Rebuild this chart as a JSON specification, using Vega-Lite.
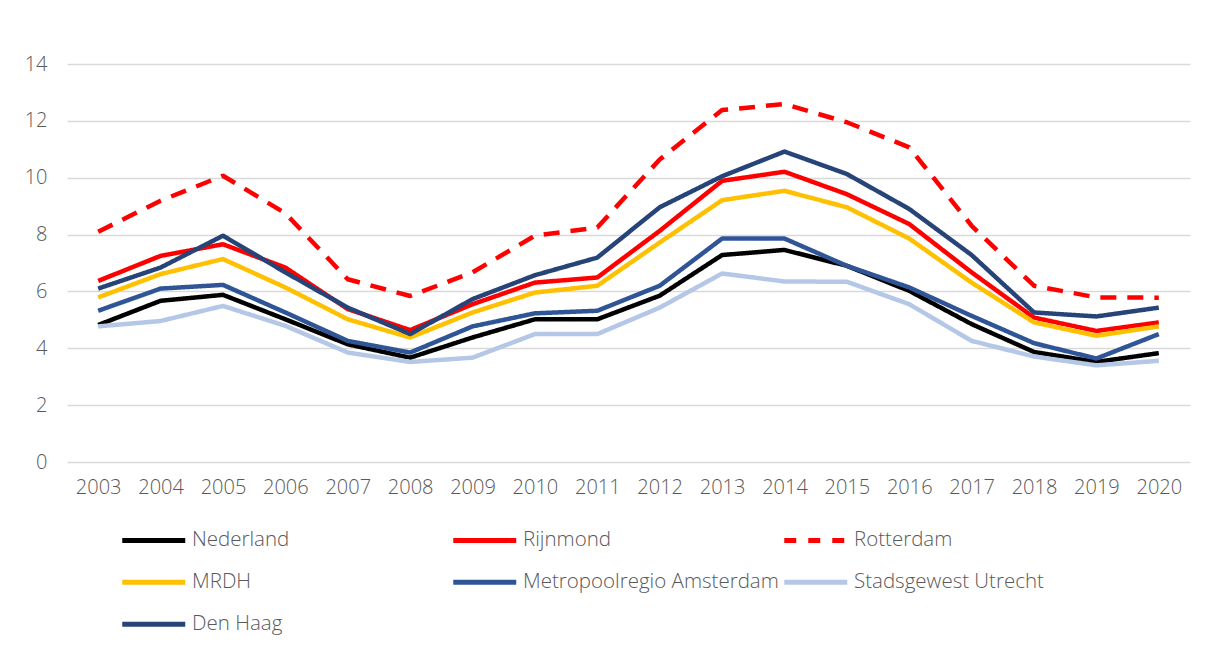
{
  "$schema": "https://vega.github.io/schema/vega-lite/v6.json",
  "width": 1123,
  "height": 398,
  "autosize": "none",
  "padding": {"left": 67, "top": 64, "right": 22, "bottom": 186},
  "background": "white",
  "data": {"values": [
    {"jaar":"2003","serie":"Nederland","waarde":4.82},{"jaar":"2004","serie":"Nederland","waarde":5.67},{"jaar":"2005","serie":"Nederland","waarde":5.88},{"jaar":"2006","serie":"Nederland","waarde":5.02},{"jaar":"2007","serie":"Nederland","waarde":4.14},{"jaar":"2008","serie":"Nederland","waarde":3.67},{"jaar":"2009","serie":"Nederland","waarde":4.38},{"jaar":"2010","serie":"Nederland","waarde":5.02},{"jaar":"2011","serie":"Nederland","waarde":5.02},{"jaar":"2012","serie":"Nederland","waarde":5.85},{"jaar":"2013","serie":"Nederland","waarde":7.28},{"jaar":"2014","serie":"Nederland","waarde":7.46},{"jaar":"2015","serie":"Nederland","waarde":6.9},{"jaar":"2016","serie":"Nederland","waarde":6.02},{"jaar":"2017","serie":"Nederland","waarde":4.85},{"jaar":"2018","serie":"Nederland","waarde":3.87},{"jaar":"2019","serie":"Nederland","waarde":3.52},{"jaar":"2020","serie":"Nederland","waarde":3.83},
    {"jaar":"2003","serie":"Rijnmond","waarde":6.37},{"jaar":"2004","serie":"Rijnmond","waarde":7.25},{"jaar":"2005","serie":"Rijnmond","waarde":7.66},{"jaar":"2006","serie":"Rijnmond","waarde":6.84},{"jaar":"2007","serie":"Rijnmond","waarde":5.38},{"jaar":"2008","serie":"Rijnmond","waarde":4.64},{"jaar":"2009","serie":"Rijnmond","waarde":5.55},{"jaar":"2010","serie":"Rijnmond","waarde":6.31},{"jaar":"2011","serie":"Rijnmond","waarde":6.49},{"jaar":"2012","serie":"Rijnmond","waarde":8.13},{"jaar":"2013","serie":"Rijnmond","waarde":9.89},{"jaar":"2014","serie":"Rijnmond","waarde":10.21},{"jaar":"2015","serie":"Rijnmond","waarde":9.42},{"jaar":"2016","serie":"Rijnmond","waarde":8.37},{"jaar":"2017","serie":"Rijnmond","waarde":6.67},{"jaar":"2018","serie":"Rijnmond","waarde":5.08},{"jaar":"2019","serie":"Rijnmond","waarde":4.61},{"jaar":"2020","serie":"Rijnmond","waarde":4.91},
    {"jaar":"2003","serie":"Rotterdam","waarde":8.1},{"jaar":"2004","serie":"Rotterdam","waarde":9.19},{"jaar":"2005","serie":"Rotterdam","waarde":10.07},{"jaar":"2006","serie":"Rotterdam","waarde":8.75},{"jaar":"2007","serie":"Rotterdam","waarde":6.43},{"jaar":"2008","serie":"Rotterdam","waarde":5.84},{"jaar":"2009","serie":"Rotterdam","waarde":6.67},{"jaar":"2010","serie":"Rotterdam","waarde":7.96},{"jaar":"2011","serie":"Rotterdam","waarde":8.25},{"jaar":"2012","serie":"Rotterdam","waarde":10.64},{"jaar":"2013","serie":"Rotterdam","waarde":12.38},{"jaar":"2014","serie":"Rotterdam","waarde":12.59},{"jaar":"2015","serie":"Rotterdam","waarde":11.95},{"jaar":"2016","serie":"Rotterdam","waarde":11.07},{"jaar":"2017","serie":"Rotterdam","waarde":8.31},{"jaar":"2018","serie":"Rotterdam","waarde":6.2},{"jaar":"2019","serie":"Rotterdam","waarde":5.79},{"jaar":"2020","serie":"Rotterdam","waarde":5.78},
    {"jaar":"2003","serie":"MRDH","waarde":5.79},{"jaar":"2004","serie":"MRDH","waarde":6.61},{"jaar":"2005","serie":"MRDH","waarde":7.14},{"jaar":"2006","serie":"MRDH","waarde":6.14},{"jaar":"2007","serie":"MRDH","waarde":5.02},{"jaar":"2008","serie":"MRDH","waarde":4.38},{"jaar":"2009","serie":"MRDH","waarde":5.26},{"jaar":"2010","serie":"MRDH","waarde":5.96},{"jaar":"2011","serie":"MRDH","waarde":6.2},{"jaar":"2012","serie":"MRDH","waarde":7.72},{"jaar":"2013","serie":"MRDH","waarde":9.21},{"jaar":"2014","serie":"MRDH","waarde":9.54},{"jaar":"2015","serie":"MRDH","waarde":8.96},{"jaar":"2016","serie":"MRDH","waarde":7.86},{"jaar":"2017","serie":"MRDH","waarde":6.31},{"jaar":"2018","serie":"MRDH","waarde":4.91},{"jaar":"2019","serie":"MRDH","waarde":4.44},{"jaar":"2020","serie":"MRDH","waarde":4.77},
    {"jaar":"2003","serie":"Metropoolregio Amsterdam","waarde":5.32},{"jaar":"2004","serie":"Metropoolregio Amsterdam","waarde":6.1},{"jaar":"2005","serie":"Metropoolregio Amsterdam","waarde":6.23},{"jaar":"2006","serie":"Metropoolregio Amsterdam","waarde":5.26},{"jaar":"2007","serie":"Metropoolregio Amsterdam","waarde":4.26},{"jaar":"2008","serie":"Metropoolregio Amsterdam","waarde":3.85},{"jaar":"2009","serie":"Metropoolregio Amsterdam","waarde":4.77},{"jaar":"2010","serie":"Metropoolregio Amsterdam","waarde":5.23},{"jaar":"2011","serie":"Metropoolregio Amsterdam","waarde":5.32},{"jaar":"2012","serie":"Metropoolregio Amsterdam","waarde":6.2},{"jaar":"2013","serie":"Metropoolregio Amsterdam","waarde":7.86},{"jaar":"2014","serie":"Metropoolregio Amsterdam","waarde":7.86},{"jaar":"2015","serie":"Metropoolregio Amsterdam","waarde":6.9},{"jaar":"2016","serie":"Metropoolregio Amsterdam","waarde":6.14},{"jaar":"2017","serie":"Metropoolregio Amsterdam","waarde":5.14},{"jaar":"2018","serie":"Metropoolregio Amsterdam","waarde":4.18},{"jaar":"2019","serie":"Metropoolregio Amsterdam","waarde":3.64},{"jaar":"2020","serie":"Metropoolregio Amsterdam","waarde":4.5},
    {"jaar":"2003","serie":"Stadsgewest Utrecht","waarde":4.77},{"jaar":"2004","serie":"Stadsgewest Utrecht","waarde":4.96},{"jaar":"2005","serie":"Stadsgewest Utrecht","waarde":5.49},{"jaar":"2006","serie":"Stadsgewest Utrecht","waarde":4.79},{"jaar":"2007","serie":"Stadsgewest Utrecht","waarde":3.85},{"jaar":"2008","serie":"Stadsgewest Utrecht","waarde":3.52},{"jaar":"2009","serie":"Stadsgewest Utrecht","waarde":3.67},{"jaar":"2010","serie":"Stadsgewest Utrecht","waarde":4.5},{"jaar":"2011","serie":"Stadsgewest Utrecht","waarde":4.5},{"jaar":"2012","serie":"Stadsgewest Utrecht","waarde":5.43},{"jaar":"2013","serie":"Stadsgewest Utrecht","waarde":6.63},{"jaar":"2014","serie":"Stadsgewest Utrecht","waarde":6.35},{"jaar":"2015","serie":"Stadsgewest Utrecht","waarde":6.34},{"jaar":"2016","serie":"Stadsgewest Utrecht","waarde":5.55},{"jaar":"2017","serie":"Stadsgewest Utrecht","waarde":4.26},{"jaar":"2018","serie":"Stadsgewest Utrecht","waarde":3.71},{"jaar":"2019","serie":"Stadsgewest Utrecht","waarde":3.4},{"jaar":"2020","serie":"Stadsgewest Utrecht","waarde":3.56},
    {"jaar":"2003","serie":"Den Haag","waarde":6.1},{"jaar":"2004","serie":"Den Haag","waarde":6.84},{"jaar":"2005","serie":"Den Haag","waarde":7.96},{"jaar":"2006","serie":"Den Haag","waarde":6.67},{"jaar":"2007","serie":"Den Haag","waarde":5.43},{"jaar":"2008","serie":"Den Haag","waarde":4.5},{"jaar":"2009","serie":"Den Haag","waarde":5.73},{"jaar":"2010","serie":"Den Haag","waarde":6.57},{"jaar":"2011","serie":"Den Haag","waarde":7.19},{"jaar":"2012","serie":"Den Haag","waarde":8.96},{"jaar":"2013","serie":"Den Haag","waarde":10.05},{"jaar":"2014","serie":"Den Haag","waarde":10.92},{"jaar":"2015","serie":"Den Haag","waarde":10.13},{"jaar":"2016","serie":"Den Haag","waarde":8.9},{"jaar":"2017","serie":"Den Haag","waarde":7.28},{"jaar":"2018","serie":"Den Haag","waarde":5.26},{"jaar":"2019","serie":"Den Haag","waarde":5.12},{"jaar":"2020","serie":"Den Haag","waarde":5.43}
  ]},
  "mark": {"type": "line", "strokeWidth": 4.5, "strokeJoin": "round"},
  "encoding": {
    "x": {"field": "jaar", "type": "ordinal", "scale": {"type": "point", "padding": 0.5},
      "axis": {"title": null, "labelAngle": 0, "domain": false, "ticks": false, "labelPadding": 15, "grid": false}},
    "y": {"field": "waarde", "type": "quantitative", "scale": {"domain": [0, 14], "nice": false},
      "axis": {"title": null, "values": [0,2,4,6,8,10,12,14], "domain": false, "ticks": false, "labelPadding": 20, "grid": true}},
    "color": {"field": "serie", "type": "nominal",
      "scale": {"domain": ["Nederland","Rijnmond","Rotterdam","MRDH","Metropoolregio Amsterdam","Stadsgewest Utrecht","Den Haag"],
                "range": ["#000000","#FF0000","#FF0000","#FFC000","#2F5597","#B4C7E7","#264478"]},
      "legend": {"title": null, "direction": "horizontal",
        "encode": {"symbols": {"update": {"strokeDash": {"signal": "datum.label === 'Rotterdam' ? [12, 12] : [1, 0]"}}}}}},
    "strokeDash": {"condition": {"test": "datum.serie === 'Rotterdam'", "value": [16, 11]}, "value": [1, 0]}
  },
  "config": {
    "font": "Open Sans",
    "view": {"stroke": null},
    "axis": {"labelFont": "Open Sans", "labelFontSize": 20, "labelFontWeight": 300, "labelColor": "#595959", "gridColor": "#D9D9D9", "gridWidth": 1.5},
    "legend": {
      "orient": "none", "legendX": 76.5, "legendY": 466, "columns": 3, "gridAlign": "all",
      "symbolType": "M-4.2,0H4.2", "symbolSize": 225, "symbolStrokeWidth": 5,
      "labelFont": "Open Sans", "labelFontSize": 20.5, "labelFontWeight": 300, "labelColor": "#595959", "labelOffset": 28,
      "columnPadding": -6, "rowPadding": 21, "padding": 0, "labelLimit": 400
    }
  }
}
